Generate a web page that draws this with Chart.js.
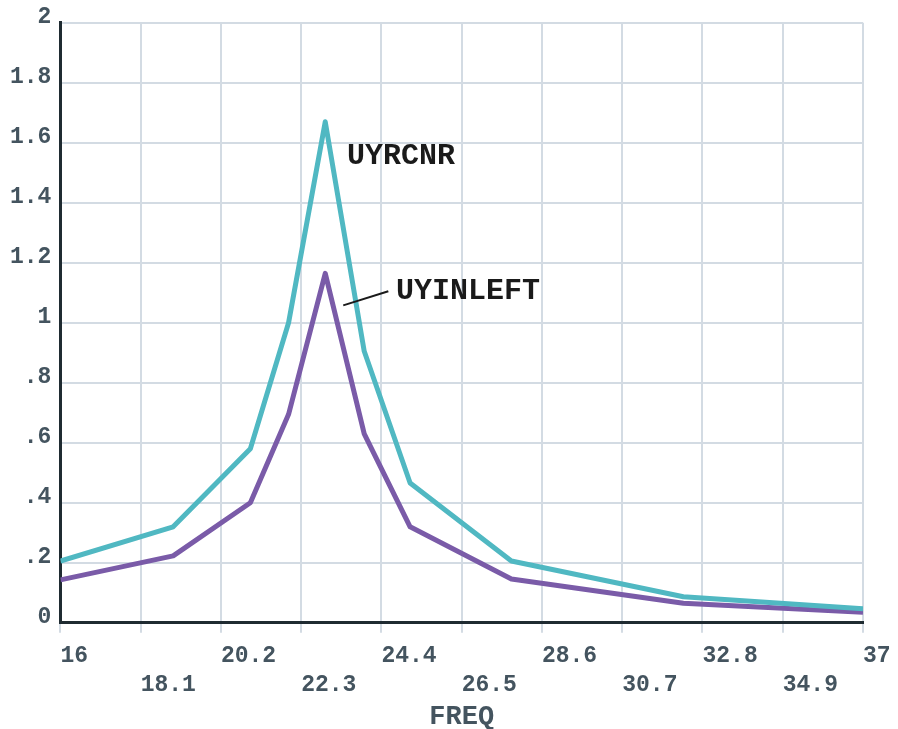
<!DOCTYPE html>
<html>
<head>
<meta charset="utf-8">
<script src="https://cdn.jsdelivr.net/npm/chart.js@4/dist/chart.umd.min.js"></script>
<style>
  body { margin: 0; background: #fff; }
  #wrap { width: 898px; height: 729px; }
</style>
</head>
<body>
<div id="wrap"><canvas id="chart" width="898" height="729"></canvas></div>
<script>
// frequency steps
var freq = [16, 18.95, 20.97, 21.97, 22.93, 23.95, 25.15, 27.8, 32.3, 37];
var uyrcnr = [0.206, 0.32, 0.58, 1.0, 1.67, 0.905, 0.466, 0.206, 0.087, 0.047];
var uyinleft = [0.143, 0.223, 0.40, 0.695, 1.165, 0.63, 0.32, 0.146, 0.065, 0.035];
var xTicks = [16, 18.1, 20.2, 22.3, 24.4, 26.5, 28.6, 30.7, 32.8, 34.9, 37];
var yTicks = [0, 0.2, 0.4, 0.6, 0.8, 1, 1.2, 1.4, 1.6, 1.8, 2];

var monoFont = '"Courier New", "Liberation Mono", monospace';
var textCol = '#44545f';
var gridCol = '#d3dbe3';
var axisCol = '#1f2b31';

function pts(ys) {
    return freq.map(function (f, i) { return { x: f, y: ys[i] }; });
}

// curve labels drawn at data coordinates
var curveLabels = {
    id: 'curveLabels',
    afterDatasetsDraw: function (chart) {
        var c = chart.ctx, xs = chart.scales.x, ys = chart.scales.y;
        c.save();
        c.fillStyle = '#1a1a1a';
        c.font = 'bold 30px ' + monoFont;
        c.textBaseline = 'alphabetic';
        c.fillText('UYRCNR', xs.getPixelForValue(23.5), ys.getPixelForValue(1.53));
        c.fillText('UYINLEFT', xs.getPixelForValue(24.78), ys.getPixelForValue(1.078));
        c.strokeStyle = '#1a1a1a';
        c.lineWidth = 2;
        c.beginPath();
        c.moveTo(xs.getPixelForValue(23.4), ys.getPixelForValue(1.058));
        c.lineTo(xs.getPixelForValue(24.58), ys.getPixelForValue(1.105));
        c.stroke();
        c.restore();
    }
};

new Chart(document.getElementById('chart').getContext('2d'), {
    type: 'line',
    data: {
        datasets: [{
            label: 'UYRCNR',
            data: pts(uyrcnr),
            borderColor: '#50b8c2',
            borderWidth: 5,
            pointRadius: 0,
            tension: 0,
            borderJoinStyle: 'round'
        }, {
            label: 'UYINLEFT',
            data: pts(uyinleft),
            borderColor: '#7a5ba8',
            borderWidth: 5,
            pointRadius: 0,
            tension: 0,
            borderJoinStyle: 'round'
        }]
    },
    options: {
        responsive: false,
        animation: false,
        layout: { padding: { left: 1, top: 11, right: 0, bottom: 0 } },
        plugins: {
            legend: { display: false },
            tooltip: { enabled: false }
        },
        scales: {
            x: {
                type: 'linear',
                min: 16,
                max: 37,
                afterBuildTicks: function (axis) {
                    axis.ticks = xTicks.map(function (v) { return { value: v }; });
                },
                afterFit: function (axis) {
                    axis.paddingRight = 35;
                },
                ticks: {
                    autoSkip: false,
                    maxRotation: 0,
                    align: 'start',
                    padding: 8,
                    color: textCol,
                    font: { family: monoFont, size: 23, weight: 'bold', lineHeight: 1.3 },
                    callback: function (v, i) {
                        var s = String(xTicks[i]);
                        return i % 2 === 0 ? [s, ''] : ['', s];
                    }
                },
                grid: { color: gridCol, lineWidth: 2, tickLength: 10, tickColor: gridCol },
                border: { color: axisCol, width: 3 },
                title: {
                    display: true,
                    text: 'FREQ',
                    color: textCol,
                    font: { family: monoFont, size: 27, weight: 'bold' },
                    padding: { top: -8, bottom: -4 }
                }
            },
            y: {
                min: 0,
                max: 2,
                afterBuildTicks: function (axis) {
                    axis.ticks = yTicks.map(function (v) { return { value: v }; });
                },
                ticks: {
                    padding: 9,
                    labelOffset: -6,
                    color: textCol,
                    font: { family: monoFont, size: 23, weight: 'bold' },
                    callback: function (v) {
                        var s = (Math.round(v * 10) / 10).toString();
                        return s.indexOf('0.') === 0 ? s.slice(1) : s;
                    }
                },
                grid: { color: gridCol, lineWidth: 2, drawTicks: false },
                border: { color: axisCol, width: 3 }
            }
        }
    },
    plugins: [curveLabels]
});
</script>
</body>
</html>
